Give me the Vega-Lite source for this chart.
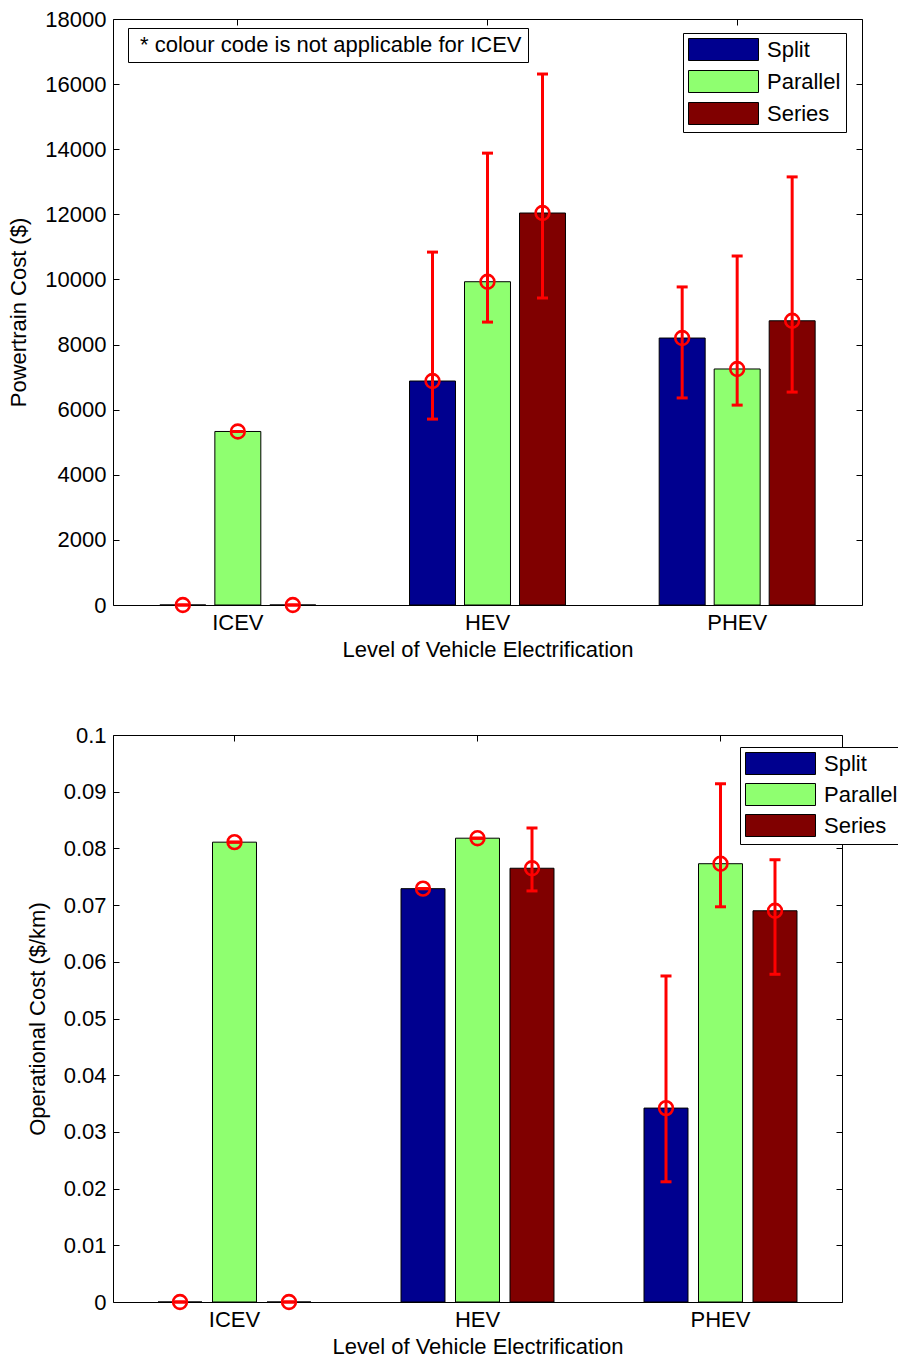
{
  "$schema": "https://vega.github.io/schema/vega-lite/v6.json",
  "background": "white",
  "padding": {"left": 7, "top": 7, "right": 0, "bottom": 5},
  "config": {
    "font": "Liberation Sans",
    "view": {"stroke": "black", "strokeWidth": 1},
    "axis": {
      "grid": false,
      "domain": false,
      "tickColor": "black",
      "tickSize": -6,
      "labelPadding": 13,
      "labelFontSize": 22,
      "titleFontSize": 22,
      "titleFontWeight": "normal",
      "labelColor": "black",
      "titleColor": "black"
    },
    "legend": {
      "labelFontSize": 22,
      "labelColor": "black",
      "labelLimit": 1000
    }
  },
  "datasets": {
    "powertrain": [
      {"level": "ICEV", "config": "Split", "value": 0, "low": 0, "high": 0},
      {"level": "ICEV", "config": "Parallel", "value": 5330, "low": 5330, "high": 5330},
      {"level": "ICEV", "config": "Series", "value": 0, "low": 0, "high": 0},
      {"level": "HEV", "config": "Split", "value": 6880, "low": 5710, "high": 10840},
      {"level": "HEV", "config": "Parallel", "value": 9930, "low": 8690, "high": 13880},
      {"level": "HEV", "config": "Series", "value": 12040, "low": 9430, "high": 16310},
      {"level": "PHEV", "config": "Split", "value": 8200, "low": 6360, "high": 9770},
      {"level": "PHEV", "config": "Parallel", "value": 7250, "low": 6140, "high": 10720},
      {"level": "PHEV", "config": "Series", "value": 8730, "low": 6540, "high": 13150}
    ],
    "operational": [
      {"level": "ICEV", "config": "Split", "value": 0, "low": 0, "high": 0},
      {"level": "ICEV", "config": "Parallel", "value": 0.0811, "low": 0.0811, "high": 0.0811},
      {"level": "ICEV", "config": "Series", "value": 0, "low": 0, "high": 0},
      {"level": "HEV", "config": "Split", "value": 0.0729, "low": 0.0729, "high": 0.0729},
      {"level": "HEV", "config": "Parallel", "value": 0.0818, "low": 0.0818, "high": 0.0818},
      {"level": "HEV", "config": "Series", "value": 0.0765, "low": 0.0725, "high": 0.0836},
      {"level": "PHEV", "config": "Split", "value": 0.0342, "low": 0.0212, "high": 0.0575},
      {"level": "PHEV", "config": "Parallel", "value": 0.0773, "low": 0.0697, "high": 0.0914},
      {"level": "PHEV", "config": "Series", "value": 0.0690, "low": 0.0578, "high": 0.0780}
    ],
    "note": [
      {"note": "* colour code is not applicable for ICEV"}
    ]
  },
  "spacing": 62,
  "resolve": {
    "scale": {"x": "independent", "y": "independent", "xOffset": "independent"},
    "legend": {"color": "independent"}
  },
  "vconcat": [
    {
      "width": 749,
      "height": 586,
      "data": {"name": "powertrain"},
      "resolve": {"axis": {"x": "independent", "y": "independent"}},
      "layer": [
        {
          "mark": {"type": "bar", "stroke": "black", "strokeWidth": 1},
          "encoding": {
            "x": {"field": "level", "type": "nominal", "sort": ["ICEV", "HEV", "PHEV"], "scale": {"paddingInner": 0, "paddingOuter": 0},
                  "axis": {"orient": "bottom", "title": "Level of Vehicle Electrification", "labelAngle": 0, "titlePadding": 6}},
            "xOffset": {"field": "config", "type": "nominal", "sort": ["Split", "Parallel", "Series"], "scale": {"paddingInner": 0.164, "paddingOuter": 0.852}},
            "y": {"field": "value", "type": "quantitative", "scale": {"domain": [0, 18000], "nice": false},
                  "axis": {"orient": "left", "title": "Powertrain Cost ($)", "values": [0, 2000, 4000, 6000, 8000, 10000, 12000, 14000, 16000, 18000], "format": "d", "titlePadding": 14}},
            "color": {"field": "config", "type": "nominal", "sort": ["Split", "Parallel", "Series"],
                      "scale": {"domain": ["Split", "Parallel", "Series"], "range": ["#00008f", "#8fff70", "#800000"]},
                      "legend": {"title": null, "orient": "none", "legendX": 570, "legendY": 14, "fillColor": "white", "strokeColor": "black", "padding": 5,
                                 "symbolType": "M-1,-1H5.3636V1H-1Z", "symbolSize": 484, "symbolStrokeColor": "black", "symbolStrokeWidth": 1,
                                 "labelOffset": 56, "rowPadding": 5}}
          }
        },
        {
          "mark": {"type": "rule", "color": "#ff0000", "strokeWidth": 3},
          "encoding": {
            "x": {"field": "level", "type": "nominal", "sort": ["ICEV", "HEV", "PHEV"], "axis": null},
            "xOffset": {"field": "config", "type": "nominal", "sort": ["Split", "Parallel", "Series"]},
            "y": {"field": "low", "type": "quantitative", "scale": {"domain": [0, 18000], "nice": false}, "axis": null},
            "y2": {"field": "high"}
          }
        },
        {
          "mark": {"type": "tick", "color": "#ff0000", "size": 11, "thickness": 3, "orient": "horizontal", "opacity": 1},
          "encoding": {
            "x": {"field": "level", "type": "nominal", "sort": ["ICEV", "HEV", "PHEV"], "axis": null},
            "xOffset": {"field": "config", "type": "nominal", "sort": ["Split", "Parallel", "Series"]},
            "y": {"field": "low", "type": "quantitative", "scale": {"domain": [0, 18000], "nice": false}, "axis": null}
          }
        },
        {
          "mark": {"type": "tick", "color": "#ff0000", "size": 11, "thickness": 3, "orient": "horizontal", "opacity": 1},
          "encoding": {
            "x": {"field": "level", "type": "nominal", "sort": ["ICEV", "HEV", "PHEV"], "axis": null},
            "xOffset": {"field": "config", "type": "nominal", "sort": ["Split", "Parallel", "Series"]},
            "y": {"field": "high", "type": "quantitative", "scale": {"domain": [0, 18000], "nice": false}, "axis": null}
          }
        },
        {
          "mark": {"type": "point", "shape": "circle", "filled": false, "color": "#ff0000", "size": 190, "strokeWidth": 2.6, "opacity": 1},
          "encoding": {
            "x": {"field": "level", "type": "nominal", "sort": ["ICEV", "HEV", "PHEV"], "axis": null},
            "xOffset": {"field": "config", "type": "nominal", "sort": ["Split", "Parallel", "Series"]},
            "y": {"field": "value", "type": "quantitative", "scale": {"domain": [0, 18000], "nice": false}, "axis": null}
          }
        },
        {
          "mark": {"type": "point", "opacity": 0},
          "encoding": {
            "x": {"field": "level", "type": "nominal", "sort": ["ICEV", "HEV", "PHEV"], "axis": {"orient": "top", "labels": false, "title": null}},
            "y": {"field": "value", "type": "quantitative", "scale": {"domain": [0, 18000], "nice": false},
                  "axis": {"orient": "right", "labels": false, "title": null, "values": [0, 2000, 4000, 6000, 8000, 10000, 12000, 14000, 16000, 18000]}}
          }
        },
        {
          "data": {"name": "note"},
          "mark": {"type": "point", "opacity": 0},
          "encoding": {
            "shape": {"field": "note", "type": "nominal",
                      "legend": {"title": null, "orient": "none", "legendX": 15, "legendY": 9, "fillColor": "white", "strokeColor": "black", "padding": 6,
                                 "symbolSize": 0, "symbolOpacity": 0, "symbolStrokeWidth": 0, "labelOffset": -16}}
          }
        }
      ]
    },
    {
      "width": 729,
      "height": 567,
      "data": {"name": "operational"},
      "resolve": {"axis": {"x": "independent", "y": "independent"}},
      "layer": [
        {
          "mark": {"type": "bar", "stroke": "black", "strokeWidth": 1},
          "encoding": {
            "x": {"field": "level", "type": "nominal", "sort": ["ICEV", "HEV", "PHEV"], "scale": {"paddingInner": 0, "paddingOuter": 0},
                  "axis": {"orient": "bottom", "title": "Level of Vehicle Electrification", "labelAngle": 0, "titlePadding": 6}},
            "xOffset": {"field": "config", "type": "nominal", "sort": ["Split", "Parallel", "Series"], "scale": {"paddingInner": 0.193, "paddingOuter": 0.826}},
            "y": {"field": "value", "type": "quantitative", "scale": {"domain": [0, 0.1], "nice": false},
                  "axis": {"orient": "left", "title": "Operational Cost ($/km)", "values": [0, 0.01, 0.02, 0.03, 0.04, 0.05, 0.06, 0.07, 0.08, 0.09, 0.1], "format": "~g", "titlePadding": 14}},
            "color": {"field": "config", "type": "nominal", "sort": ["Split", "Parallel", "Series"],
                      "scale": {"domain": ["Split", "Parallel", "Series"], "range": ["#00008f", "#8fff70", "#800000"]},
                      "legend": {"title": null, "orient": "none", "legendX": 627, "legendY": 12, "fillColor": "white", "strokeColor": "black", "padding": 5,
                                 "symbolType": "M-1,-1H5.3636V1H-1Z", "symbolSize": 484, "symbolStrokeColor": "black", "symbolStrokeWidth": 1,
                                 "labelOffset": 56, "rowPadding": 4}}
          }
        },
        {
          "mark": {"type": "rule", "color": "#ff0000", "strokeWidth": 3},
          "encoding": {
            "x": {"field": "level", "type": "nominal", "sort": ["ICEV", "HEV", "PHEV"], "axis": null},
            "xOffset": {"field": "config", "type": "nominal", "sort": ["Split", "Parallel", "Series"]},
            "y": {"field": "low", "type": "quantitative", "scale": {"domain": [0, 0.1], "nice": false}, "axis": null},
            "y2": {"field": "high"}
          }
        },
        {
          "mark": {"type": "tick", "color": "#ff0000", "size": 11, "thickness": 3, "orient": "horizontal", "opacity": 1},
          "encoding": {
            "x": {"field": "level", "type": "nominal", "sort": ["ICEV", "HEV", "PHEV"], "axis": null},
            "xOffset": {"field": "config", "type": "nominal", "sort": ["Split", "Parallel", "Series"]},
            "y": {"field": "low", "type": "quantitative", "scale": {"domain": [0, 0.1], "nice": false}, "axis": null}
          }
        },
        {
          "mark": {"type": "tick", "color": "#ff0000", "size": 11, "thickness": 3, "orient": "horizontal", "opacity": 1},
          "encoding": {
            "x": {"field": "level", "type": "nominal", "sort": ["ICEV", "HEV", "PHEV"], "axis": null},
            "xOffset": {"field": "config", "type": "nominal", "sort": ["Split", "Parallel", "Series"]},
            "y": {"field": "high", "type": "quantitative", "scale": {"domain": [0, 0.1], "nice": false}, "axis": null}
          }
        },
        {
          "mark": {"type": "point", "shape": "circle", "filled": false, "color": "#ff0000", "size": 190, "strokeWidth": 2.6, "opacity": 1},
          "encoding": {
            "x": {"field": "level", "type": "nominal", "sort": ["ICEV", "HEV", "PHEV"], "axis": null},
            "xOffset": {"field": "config", "type": "nominal", "sort": ["Split", "Parallel", "Series"]},
            "y": {"field": "value", "type": "quantitative", "scale": {"domain": [0, 0.1], "nice": false}, "axis": null}
          }
        },
        {
          "mark": {"type": "point", "opacity": 0},
          "encoding": {
            "x": {"field": "level", "type": "nominal", "sort": ["ICEV", "HEV", "PHEV"], "axis": {"orient": "top", "labels": false, "title": null}},
            "y": {"field": "value", "type": "quantitative", "scale": {"domain": [0, 0.1], "nice": false},
                  "axis": {"orient": "right", "labels": false, "title": null, "values": [0, 0.01, 0.02, 0.03, 0.04, 0.05, 0.06, 0.07, 0.08, 0.09, 0.1]}}
          }
        }
      ]
    }
  ]
}
